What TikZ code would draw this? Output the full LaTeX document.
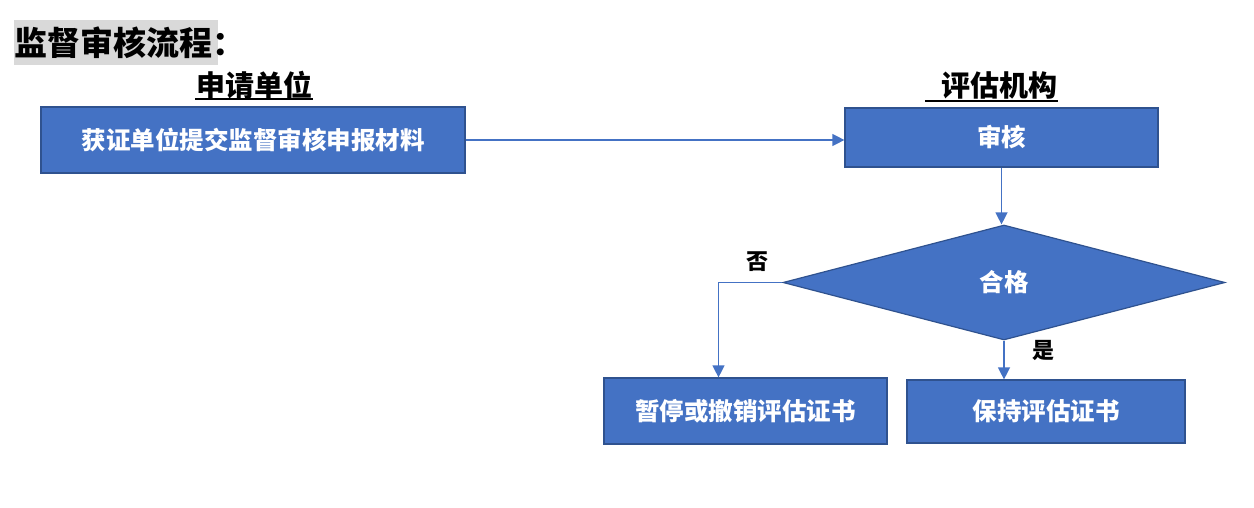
\documentclass[tikz,border=0pt]{standalone}
\usepackage{fontspec}
\setmainfont{Noto Sans CJK SC}
\usetikzlibrary{shapes.geometric,arrows.meta}
\definecolor{boxblue}{HTML}{4472C4}
\definecolor{boxedge}{HTML}{2F528F}
\definecolor{titlegray}{HTML}{D9D9D9}
\tikzset{
  box/.style={rectangle, draw=boxedge, line width=1.2pt, fill=boxblue,
    text=white, font=\bfseries\fontsize{24.5}{27}\selectfont, inner sep=0pt},
  decision/.style={diamond, draw=boxedge, line width=1.2pt, fill=boxblue,
    text=white, font=\bfseries\fontsize{24.5}{27}\selectfont, inner sep=0pt},
  hdr/.style={font=\bfseries\fontsize{29}{32}\selectfont, inner sep=0pt},
  flow/.style={draw=boxblue, line width=1.3pt, -{Triangle[width=12pt,length=12pt]}},
}
\begin{document}
\begin{tikzpicture}[x=1pt,y=-1pt]
        \useasboundingbox (0,0) rectangle (1254,508);

        % title
        \fill[titlegray] (14,20) rectangle (218,65);
        \node[anchor=west, inner sep=0pt, font=\bfseries\fontsize{33}{36}\selectfont] (title) at (14,43) {监督审核流程：};

        % column heads
        \begin{scope}[every node/.style={hdr}]
          \node (apply) at (254,85) {申请单位};
          \node (assess) at (999,85) {评估机构};
        \end{scope}
        \draw[line width=1.3pt] (195,99) -- (313,99);
        \draw[line width=1.3pt] (925,101) -- (1058,101);

        % boxes
        \node[box, minimum width=424, minimum height=66] (submit) at (253,140) {获证单位提交监督审核申报材料};
        \node[box, minimum width=313, minimum height=59] (review) at (1001.5,137.5) {审核};
        \node[decision, minimum width=442, minimum height=115] (pass) at (1004,282.5) {\raisebox{-5pt}{合格}};
        \node[box, minimum width=283, minimum height=66] (revoke) at (745.5,411) {暂停或撤销评估证书};
        \node[box, minimum width=278, minimum height=63] (keep) at (1046,411.5) {保持评估证书};

        % answers
        \begin{scope}[every node/.style={font=\bfseries\fontsize{22}{25}\selectfont, inner sep=0pt}]
          \node (no) at (757,262) {否};
          \node (yes) at (1043,350) {是};
        \end{scope}

        % connectors
        \draw[flow] (submit.east) -- (submit.east -| review.west);
        \draw[flow] (review.south) -- (review.south |- pass.north);
        \draw[flow] (pass.west) -| ([xshift=-27pt]revoke.north);
        \draw[flow] (pass.south) -- (pass.south |- keep.north);

      \end{tikzpicture}
\end{document}
